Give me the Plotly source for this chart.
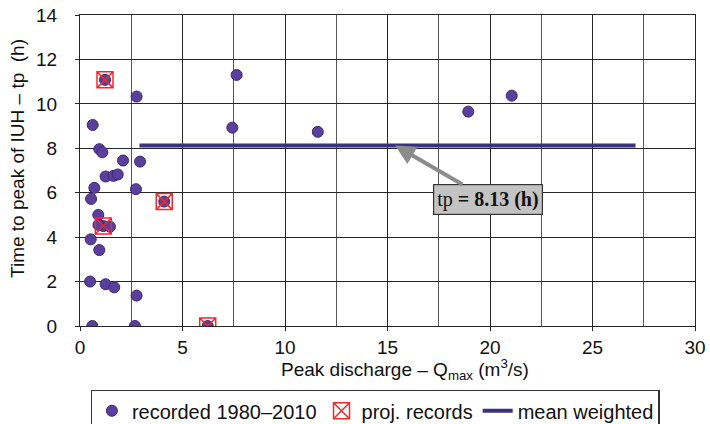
import plotly.graph_objects as go

# Recorded events 1980-2010: peak discharge (m3/s) vs time to peak (h)
rec_q = [1.22, 4.11, 1.14, 6.23, 2.76, 7.64, 0.62, 7.43, 0.94, 1.09, 2.10, 2.93,
         1.25, 1.63, 1.84, 0.70, 2.73, 0.54, 0.89, 0.90, 1.46, 0.52, 0.94, 0.49,
         1.25, 1.67, 2.76, 0.60, 2.68, 11.6, 18.94, 21.06]
rec_tp = [11.08, 5.60, 4.50, 0.0, 10.33, 11.30, 9.05, 8.93, 7.96, 7.82, 7.45, 7.40,
          6.73, 6.76, 6.82, 6.22, 6.16, 5.72, 5.00, 4.55, 4.47, 3.90, 3.42, 2.00,
          1.88, 1.74, 1.37, 0.0, 0.0, 8.74, 9.65, 10.37]

# Events taken from project records
proj_q = [1.22, 4.11, 1.14, 6.23]
proj_tp = [11.08, 5.60, 4.50, 0.0]

# Weighted mean time to peak
mean_tp = 8.13
mean_q = [2.9, 27.1]

x_ticks = [0, 5, 10, 15, 20, 25, 30]
y_ticks = [0, 2, 4, 6, 8, 10, 12, 14]

x_title = "Peak discharge \u2013 Q<sub>max</sub> (m<sup>3</sup>/s)"
y_title = "Time to peak of IUH \u2013 tp  (h)"

fig = go.Figure()

fig.add_trace(go.Scatter(
    x=mean_q, y=[mean_tp, mean_tp], mode="lines", name="mean weighted",
    line=dict(color="#3b327f", width=4), showlegend=False))

fig.add_trace(go.Scatter(
    x=rec_q, y=rec_tp, mode="markers", name="recorded 1980\u20132010",
    marker=dict(symbol="circle", size=11, color="#5b3f9c",
                line=dict(color="#3a2873", width=1))))

fig.add_trace(go.Scatter(
    x=proj_q, y=proj_tp, mode="markers", name="proj. records",
    marker=dict(symbol="square-x-open", size=16, color="#ee2b2b",
                line=dict(width=1.5))))

# legend entry for the mean line placed last
fig.add_trace(go.Scatter(
    x=[None], y=[None], mode="lines", name="mean weighted",
    line=dict(color="#3b327f", width=4)))

fig.add_annotation(
    x=15.37, y=mean_tp, xref="x", yref="y",
    text="tp<b> = 8.13 (h)</b>",
    font=dict(family="Liberation Serif", size=20, color="#111"),
    showarrow=True, arrowhead=2, arrowsize=1, arrowwidth=4, arrowcolor="#8c8c8c",
    ax=93, ay=54, bgcolor="#c3c3c3", bordercolor="#333", borderwidth=1.2,
    borderpad=3)

# axis titles
fig.add_annotation(
    text=x_title, xref="paper", yref="paper", x=0.528, y=0,
    xanchor="center", yanchor="top", yshift=-28, showarrow=False,
    font=dict(size=19))
fig.add_annotation(
    text=y_title, xref="paper", yref="paper", x=0, y=0.537,
    xanchor="center", yanchor="middle", xshift=-62, textangle=-90, showarrow=False,
    font=dict(size=19))

grid_color = "#262626"
fig.update_xaxes(
    range=[0, 30], tickvals=x_ticks, showgrid=True, gridcolor=grid_color, gridwidth=1.3,
    minor=dict(dtick=2.5, showgrid=True, gridcolor="#555", gridwidth=1.3),
    zeroline=False, showline=True, linecolor=grid_color, linewidth=1.3,
    ticks="outside", ticklen=4, tickcolor=grid_color, automargin=False,
    tickfont=dict(size=19), mirror=True)
fig.update_yaxes(
    range=[0, 14], tickvals=y_ticks, showgrid=True, gridcolor=grid_color, gridwidth=1.3,
    zeroline=False, showline=True, linecolor=grid_color, linewidth=1.3,
    ticks="outside", ticklen=4, tickcolor=grid_color, automargin=False,
    ticklabelstandoff=14, tickfont=dict(size=19), mirror=True)

fig.update_layout(
    width=710, height=424,
    margin=dict(l=80, r=15, t=15, b=98, autoexpand=False),
    plot_bgcolor="white", paper_bgcolor="white",
    font=dict(family="Liberation Sans", size=19, color="#111"),
    legend=dict(orientation="h", x=0.48, xanchor="center",
                y=-0.206, yanchor="top", maxheight=120,
                bordercolor="#333", borderwidth=1.2, font=dict(size=20),
                itemwidth=30, tracegroupgap=0),
)

fig.write_html("out.html")
